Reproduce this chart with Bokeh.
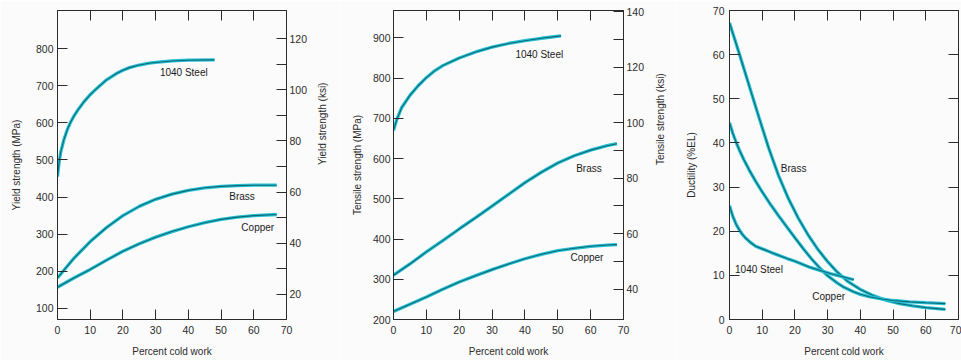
import math
from bokeh.plotting import figure
from bokeh.models import LinearAxis, Range1d, FixedTicker
from bokeh.layouts import row
from bokeh.embed import file_html
from bokeh.resources import INLINE
from bokeh.core.properties import value

KSI = 6.894757  # MPa per ksi

# ---------------- data ----------------
# (a) Yield strength, MPa
ys_steel_x = [0, 0.5, 1, 2, 3, 4, 5, 6, 8, 10, 12, 15, 18, 20, 22, 25, 28, 30, 35, 40, 48]
ys_steel_y = [455, 495, 522, 556, 582, 602, 618, 632, 656, 676, 693, 716, 733, 742, 749, 756, 761, 763, 767, 769, 770]
ys_brass_x = [0, 5, 10, 15, 20, 25, 30, 35, 40, 45, 50, 55, 60, 67]
ys_brass_y = [182, 235, 280, 318, 350, 375, 394, 408, 418, 425, 429, 431, 432, 432]
ys_copper_x = [0, 5, 10, 15, 20, 25, 30, 35, 40, 45, 50, 55, 60, 67]
ys_copper_y = [157, 182, 205, 230, 254, 274, 292, 307, 320, 331, 340, 346, 350, 353]

# (b) Tensile strength, MPa
ts_steel_x = [0, 1, 2.5, 5, 7.5, 10, 12.5, 15, 20, 25, 30, 35, 40, 45, 51]
ts_steel_y = [670, 697, 727, 757, 781, 801, 818, 831, 850, 865, 877, 886, 893, 899, 905]
ts_brass_x = [0, 5, 10, 15, 20, 25, 30, 35, 40, 45, 50, 55, 60, 65, 68]
ts_brass_y = [310, 338, 368, 396, 425, 453, 482, 511, 540, 566, 589, 607, 621, 632, 637]
ts_copper_x = [0, 5, 10, 15, 20, 25, 30, 35, 40, 45, 50, 55, 60, 65, 68]
ts_copper_y = [220, 238, 256, 275, 293, 309, 324, 338, 351, 362, 371, 377, 382, 385, 386]

# (c) Ductility, %EL
du_brass_x = [0, 3, 6, 9, 12, 15, 18, 21, 24, 27, 30, 33, 36, 40, 44, 48, 52, 56, 60, 66]
du_brass_y = [67.2, 60.2, 53, 45.8, 38.8, 32.6, 27.4, 23, 19.2, 15.9, 13.1, 10.7, 8.7, 6.8, 5.4, 4.3, 3.6, 3.1, 2.7, 2.3]
du_copper_x = [0, 1, 2, 3, 4.4, 6, 8, 10, 12.5, 15, 17.6, 20, 22.7, 25, 27.8, 30, 32.9, 35, 37.9, 40, 43, 47, 50, 55, 60, 66]
du_copper_y = [44.6, 42.2, 40.2, 38.4, 36.2, 33.9, 31.3, 28.9, 26.1, 23.5, 20.9, 18.5, 15.9, 13.8, 11.5, 9.9, 8.3, 7.3, 6.3, 5.7, 5.1, 4.6, 4.3, 4.0, 3.8, 3.6]
du_steel_x = [0, 1, 2, 3, 4, 5, 6.5, 8, 10, 13, 17.6, 20, 24.7, 30.8, 38]
du_steel_y = [25.8, 23.4, 21.6, 20.3, 19.2, 18.4, 17.4, 16.6, 16.0, 15.1, 13.8, 13.2, 11.8, 10.4, 9.0]

# curve labels
lab_a = {"x": [31.3, 52.5, 56.2], "y": [737, 401, 317], "text": ["1040 Steel", "Brass", "Copper"]}
lab_b = {"x": [37.1, 55.6, 53.9], "y": [858, 575, 355], "text": ["1040 Steel", "Brass", "Copper"]}
lab_c = {"x": [15.7, 1.7, 25.3], "y": [34.3, 11.4, 5.1], "text": ["Brass", "1040 Steel", "Copper"]}

x_ticks = [0, 10, 20, 30, 40, 50, 60, 70]
x_inner = [10, 20, 30, 40, 50, 60]

# ---------------- style ----------------
FONT = "Liberation Sans"
BG = "#fbfbfb"
INK = "#2b2b2b"
GLOW = "#26c0d3"
CORE = "#0f6a78"


def style_axis(ax, labels=True):
    ax.axis_line_color = INK
    ax.major_tick_line_color = INK
    ax.minor_tick_line_color = INK
    ax.major_tick_in = 10
    ax.major_tick_out = 0
    ax.minor_tick_in = 10
    ax.minor_tick_out = 0
    ax.major_label_text_font = FONT
    ax.major_label_text_font_size = "10.5px" if labels else "1px"
    ax.major_label_text_color = INK if labels else None
    ax.major_label_standoff = 4 if labels else 0
    ax.axis_label_text_font = FONT
    ax.axis_label_text_font_size = "10px"
    ax.axis_label_text_font_style = "normal"
    ax.axis_label_text_color = INK


def upright(ax):
    # right-hand titles read bottom-to-top, like the left ones
    try:
        ax.axis_label_orientation = math.pi / 2
    except Exception:
        pass


def make_fig(width, bl, br, bt, bb, y0, y1, ylabel, yticks):
    p = figure(width=width, height=360, x_range=Range1d(0, 70), y_range=Range1d(y0, y1),
               min_border_left=bl, min_border_right=br, min_border_top=bt, min_border_bottom=bb,
               output_backend="svg", toolbar_location=None, tools="")
    p.background_fill_color = BG
    p.border_fill_color = BG
    p.outline_line_color = INK
    p.grid.visible = False
    p.xaxis.ticker = FixedTicker(ticks=x_ticks)
    p.xaxis.axis_label = "Percent cold work"
    p.yaxis.ticker = FixedTicker(ticks=yticks)
    p.yaxis.axis_label = ylabel
    for ax in p.xaxis + p.yaxis:
        style_axis(ax)
    p.xaxis.major_label_standoff = 6
    p.xaxis.axis_label_standoff = 9
    top = LinearAxis(ticker=FixedTicker(ticks=x_inner))
    style_axis(top, labels=False)
    p.add_layout(top, "above")
    return p


def curve(p, xs, ys):
    p.line(xs, ys, line_width=3.3, line_color=GLOW)
    p.line(xs, ys, line_width=1.1, line_color=CORE)


def labels(p, d):
    p.text(x=d["x"], y=d["y"], text=d["text"], text_font=value(FONT), text_font_size="10px",
           text_color="#1a1a1a", text_align="left", text_baseline="middle")


# ---- (a) yield strength ----
pa = make_fig(340, 57, 54, 10, 40, 70, 903, "Yield strength (MPa)", [100, 200, 300, 400, 500, 600, 700, 800])
pa.yaxis.axis_label_standoff = 11
pa.extra_y_ranges = {"ksi": Range1d(70 / KSI, 903 / KSI)}
ra = LinearAxis(y_range_name="ksi", axis_label="Yield strength (ksi)",
                ticker=FixedTicker(ticks=[20, 40, 60, 80, 100, 120], minor_ticks=[30, 50, 70, 90, 110]))
style_axis(ra)
ra.major_label_standoff = 3
ra.axis_label_standoff = 12
upright(ra)
pa.add_layout(ra, "right")
curve(pa, ys_steel_x, ys_steel_y)
curve(pa, ys_brass_x, ys_brass_y)
curve(pa, ys_copper_x, ys_copper_y)
labels(pa, lab_a)

# ---- (b) tensile strength ----
pb = make_fig(336, 53, 53, 10, 38, 200, 968, "Tensile strength (MPa)", [200, 300, 400, 500, 600, 700, 800, 900])
pb.yaxis.axis_label_standoff = 7
pb.yaxis.major_label_standoff = 3
pb.extra_y_ranges = {"ksi": Range1d(200 / KSI, 968 / KSI)}
rb = LinearAxis(y_range_name="ksi", axis_label="Tensile strength (ksi)",
                ticker=FixedTicker(ticks=[40, 60, 80, 100, 120, 140], minor_ticks=[50, 70, 90, 110, 130]))
style_axis(rb)
rb.major_label_standoff = 3
rb.axis_label_standoff = 13
upright(rb)
pb.add_layout(rb, "right")
curve(pb, ts_steel_x, ts_steel_y)
curve(pb, ts_brass_x, ts_brass_y)
curve(pb, ts_copper_x, ts_copper_y)
labels(pb, lab_b)

# ---- (c) ductility ----
pc = make_fig(285, 53, 3, 9, 41, 0, 70, "Ductility (%EL)", [0, 10, 20, 30, 40, 50, 60, 70])
pc.yaxis.axis_label_standoff = 13
pc.yaxis.major_label_standoff = 5
rc = LinearAxis(ticker=FixedTicker(ticks=[10, 20, 30, 40, 50, 60]))
style_axis(rc, labels=False)
pc.add_layout(rc, "right")
curve(pc, du_brass_x, du_brass_y)
curve(pc, du_copper_x, du_copper_y)
curve(pc, du_steel_x, du_steel_y)
labels(pc, lab_c)

layout = row(pa, pb, pc, spacing=0)
open("out.html", "w").write(file_html(layout, INLINE))
